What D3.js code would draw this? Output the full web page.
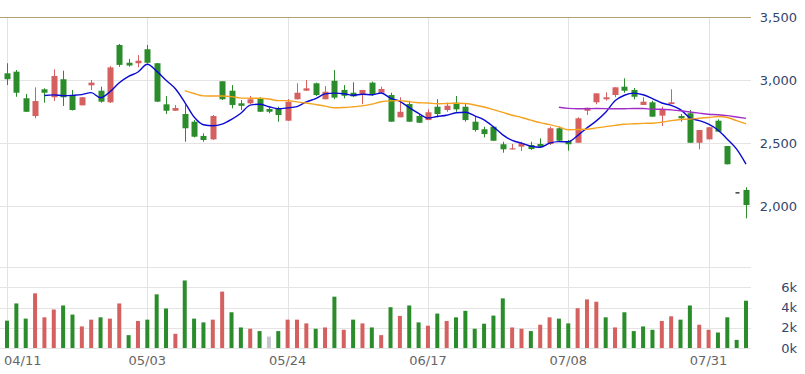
<!DOCTYPE html>
<html><head><meta charset="utf-8">
<script src="https://cdn.jsdelivr.net/npm/d3@7"></script>
<style>html,body{margin:0;padding:0;background:#fff;}svg{display:block;font-family:"DejaVu Sans",sans-serif;}</style>
</head><body><svg id="chart" width="805" height="374"></svg>
<script>
// ---- data ----
const openP  = [3053,3066,2855,2714,2926,2863,3006,2881,2799,2958,2915,2823,3278,3137,3133,3244,3133,2807,2756,2730,
                2669,2556,2529,2990,2915,2815,2815,2855,2770,2775,2677,2847,2915,2974,2847,2994,2921,2899,2889,2979,
                2899,2881,2704,2809,2714,2682,2788,2762,2820,2788,2669,2609,2629,2490,2450,2471,2484,2492,2492,2617,
                2516,2502,2756,2823,2847,2881,2947,2921,2802,2823,2717,2809,2714,2736,2502,2529,2677,2476,2109,2127];
const highP  = [3133,3079,2889,2942,2934,3085,3074,2921,2865,3000,2947,3110,3286,3167,3198,3278,3135,2873,2802,2802,
                2682,2577,2722,2990,2960,2841,2873,2863,2783,2788,2849,2974,3000,2979,2952,3079,2960,2982,2921,2987,
                2947,2899,2863,2836,2722,2767,2847,2820,2873,2815,2709,2629,2629,2510,2492,2510,2510,2537,2629,2629,
                2524,2704,2780,2894,2902,2942,3013,2936,2863,2836,2788,2926,2730,2762,2603,2625,2688,2476,2109,2148];
const lowP   = [2960,2867,2746,2696,2820,2833,2794,2758,2798,2921,2820,2817,3105,3106,3101,3133,2825,2730,2754,2510,
                2544,2510,2524,2841,2775,2762,2809,2746,2736,2669,2675,2845,2915,2873,2847,2847,2855,2865,2807,2873,
                2899,2669,2704,2669,2659,2682,2704,2748,2748,2669,2590,2545,2518,2423,2450,2436,2444,2466,2484,2510,
                2439,2502,2722,2807,2836,2863,2899,2847,2802,2709,2635,2809,2669,2502,2450,2529,2590,2331,2109,1902];
const closeP = [3006,2899,2748,2833,2899,3032,2863,2762,2863,2979,2828,3100,3120,3115,3153,3137,2828,2756,2778,2617,
                2550,2524,2714,2847,2802,2795,2847,2748,2748,2722,2828,2899,2934,2881,2907,2860,2875,2870,2921,2889,
                2929,2669,2748,2669,2661,2744,2730,2796,2767,2682,2603,2571,2518,2450,2458,2498,2452,2471,2617,2518,
                2490,2696,2780,2894,2863,2942,2915,2867,2828,2709,2767,2823,2696,2502,2603,2625,2590,2331,2109,2008];
const volume = [2700,4400,2900,5400,3030,3800,4200,3300,2130,2800,3030,2900,4400,1270,2670,2800,5300,3900,1400,6670,
                2900,2530,2800,5570,3530,2030,1900,1670,1130,1670,2800,2800,2430,1900,2030,5070,1800,2800,2430,2030,
                1270,4030,3170,4200,2530,2200,3400,2670,3030,3670,1900,2400,3200,4900,2030,1900,1670,2300,3030,2900,
                2430,3930,4800,4570,3030,2030,3530,1670,2130,1800,2670,3130,2800,4200,2300,1800,1530,3030,800,4670];
const tickIndex  = [0,15,30,45,60,75];
const tickLabels = ["04/11","05/03","05/24","06/17","07/08","07/31"];
const priceTicks = [2000,2500,3000,3500];
const volumeTicks = [0,2000,4000,6000];
const maPeriods = [5,20,60];
const maColors  = ["#0a0ad2","#f5a21e","#a22ec8"];

// ---- layout ----
const svg = d3.select("#chart");
const n = closeP.length;
const x = d3.scaleLinear().domain([0, n - 1]).range([7, 746]);
const yP = d3.scaleLinear().domain([1500, 3500]).range([269, 17]);
const yV = d3.scaleLinear().domain([0, 8000]).range([348, 267]);
const plotL = 0, plotR = 751;
const UP = "#d4605f", DOWN = "#2a8c2a", FLAT = "#c4c6cf";

// grid
const g = svg.append("g").attr("shape-rendering", "crispEdges");
g.selectAll(".vg").data(tickIndex).join("line")
  .attr("x1", d => Math.round(x(d)) + 0.5).attr("x2", d => Math.round(x(d)) + 0.5)
  .attr("y1", yP(3500)).attr("y2", yV(0))
  .attr("stroke", "#e2e2e2");
g.selectAll(".pg").data(priceTicks).join("line")
  .attr("x1", plotL).attr("x2", plotR)
  .attr("y1", d => Math.round(yP(d)) + 0.5).attr("y2", d => Math.round(yP(d)) + 0.5)
  .attr("stroke", d => d === 3500 ? "#b4a276" : "#e4e4e4");
g.selectAll(".vgl").data(volumeTicks.concat([8000])).join("line")
  .attr("x1", plotL).attr("x2", plotR)
  .attr("y1", d => Math.round(yV(d)) + 0.5).attr("y2", d => Math.round(yV(d)) + 0.5)
  .attr("stroke", "#e4e4e4");

// volume bars
const vol = svg.append("g");
vol.selectAll("rect").data(volume).join("rect")
  .attr("x", (d, i) => x(i) - 2).attr("width", 4)
  .attr("y", d => yV(d)).attr("height", d => yV(0) - yV(d))
  .attr("fill", (d, i) => {
    if (i === 0) return closeP[0] >= openP[0] ? UP : DOWN;
    return closeP[i] > closeP[i-1] ? UP : (closeP[i] < closeP[i-1] ? DOWN : FLAT);
  });

// candles
const candleColor = i => closeP[i] > openP[i] ? UP : (closeP[i] < openP[i] ? DOWN : "#111");
const isDoji = i => openP[i] === closeP[i] && highP[i] === lowP[i];
const cg = svg.append("g");
const idx = d3.range(n);
cg.selectAll("line").data(idx.filter(i => !isDoji(i))).join("line")
  .attr("x1", i => Math.round(x(i)) + 0.5).attr("x2", i => Math.round(x(i)) + 0.5)
  .attr("y1", i => yP(highP[i])).attr("y2", i => yP(lowP[i]))
  .attr("stroke", candleColor).attr("stroke-width", 1);
cg.selectAll("rect").data(idx).join("rect")
  .attr("x", i => isDoji(i) ? Math.round(x(i)) - 1.5 : Math.round(x(i)) - 2.5)
  .attr("width", i => isDoji(i) ? 4 : 6)
  .attr("y", i => yP(Math.max(openP[i], closeP[i])))
  .attr("height", i => Math.max(1.2, Math.abs(yP(openP[i]) - yP(closeP[i]))))
  .attr("fill", candleColor);

// moving averages
maPeriods.forEach((p, k) => {
  const ma = idx.map(i => i < p - 1 ? null : d3.mean(closeP.slice(i - p + 1, i + 1)));
  const line = d3.line().defined(d => d !== null)
    .x((d, i) => x(i)).y(d => yP(d)).curve(d3.curveMonotoneX);
  svg.append("path").datum(ma).attr("d", line)
    .attr("fill", "none").attr("stroke", maColors[k]).attr("stroke-width", 1.4);
});

// axis labels
const fmt = d3.format(",");
svg.append("g").selectAll("text").data(priceTicks).join("text")
  .attr("x", 797).attr("y", d => yP(d)).attr("dy", "0.36em")
  .attr("text-anchor", "end").attr("font-size", 13).attr("fill", "#33466e")
  .text(d => fmt(d));
svg.append("g").selectAll("text").data(volumeTicks).join("text")
  .attr("x", 797).attr("y", d => yV(d)).attr("dy", "0.36em")
  .attr("text-anchor", "end").attr("font-size", 13).attr("fill", "#33466e")
  .text(d => (d / 1000) + "k");
svg.append("g").selectAll("text").data(tickIndex).join("text")
  .attr("x", (d, i) => i === 0 ? 4 : x(d)).attr("y", 365)
  .attr("text-anchor", (d, i) => i === 0 ? "start" : "middle")
  .attr("font-size", 13).attr("fill", "#666")
  .text((d, i) => tickLabels[i]);
</script></body></html>
